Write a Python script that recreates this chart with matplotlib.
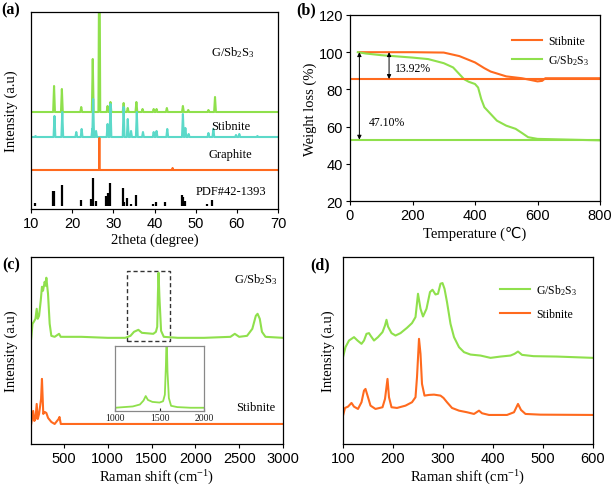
import numpy as np
import matplotlib
matplotlib.use("Agg")
import matplotlib.pyplot as plt

plt.rcParams['font.family'] = ['Liberation Sans', 'DejaVu Sans']
plt.rcParams['mathtext.fontset'] = 'custom'
plt.rcParams['mathtext.rm'] = 'Liberation Serif'
plt.rcParams['mathtext.it'] = 'Liberation Serif:italic'
SERIF = ['Liberation Serif', 'DejaVu Sans']

GREEN = '#8fe04c'
CYAN = '#5cd9c9'
ORANGE = '#ff6a1e'

# ---------------- (a) XRD ----------------
g_xrd_pos = [15.6, 17.5, 22.2, 25.0, 26.6, 28.6, 29.3, 32.5, 33.5, 35.6, 37.1, 39.8, 40.5, 43.0, 46.9, 48.2, 53.1, 54.7]
g_xrd_h = [26, 23, 5, 53, 200, 6, 10, 9, 4, 10, 3, 3, 3, 4, 6, 2, 2, 15]
s_xrd_pos = [11.1, 15.7, 17.6, 21.0, 22.3, 24.9, 25.1, 25.8, 28.6, 29.3, 32.5, 33.5, 34.3, 35.7, 37.2, 39.8, 40.5, 43.1, 46.9, 47.5, 48.3, 53.1, 54.3, 59.8, 60.6, 65.0]
s_xrd_h = [1, 21, 25, 5, 8, 8, 38, 6, 13, 33, 30, 18, 6, 25, 5, 5, 6, 8, 23, 9, 3, 4, 8, 2, 3, 1]
gr_xrd_pos = [26.6, 44.4]
gr_xrd_h = [32, 2]
pdf_pos = [11.0, 15.4, 15.6, 17.5, 22.2, 24.6, 25.0, 25.8, 28.3, 28.6, 29.2, 32.4, 32.7, 33.4, 34.4, 35.6, 39.7, 40.3, 42.6, 46.7, 47.0, 47.5, 52.8, 54.0]
pdf_h = [2.7, 15, 15, 20.7, 5.7, 6.7, 27.7, 5, 10, 13, 23, 17.7, 4, 8, 2.5, 11, 2.5, 4, 4, 10.7, 9, 5, 2.5, 6]
xrd_offsets = {'g': 97, 's': 72, 'gr': 39, 'pdf': 3}

# ---------------- (b) TGA ----------------
stib_T = [30, 100, 200, 300, 350, 400, 430, 450, 500, 550, 580, 600, 615, 625, 700, 800]
stib_W = [100, 100, 100, 99.8, 97.9, 94.5, 91.4, 89.6, 87.0, 86.0, 85.0, 84.3, 84.6, 86.0, 86.0, 86.0]
g_T = [25, 50, 100, 200, 250, 300, 330, 350, 365, 380, 400, 410, 420, 430, 450, 470, 500, 530, 550, 570, 600, 700, 800]
g_W = [100, 99.3, 98.4, 97.1, 96.3, 94.1, 91.8, 88.2, 85.5, 84.1, 82.9, 81.0, 74.8, 70.4, 66.8, 63.2, 60.5, 58.8, 56.6, 54.3, 53.4, 53.0, 52.6]
stib_final = 85.6
g_final = 53.0
loss_labels = ['13.92%', '47.10%']

# ---------------- (c) Raman wide ----------------
c_g_x = [127, 142, 157, 176, 190, 202, 217, 236, 250, 262, 281, 292, 300, 319, 338, 357, 395, 445, 464, 700, 1000, 1200, 1260, 1300, 1350, 1390, 1520, 1550, 1565, 1573, 1580, 1590, 1609, 1640, 1800, 2100, 2400, 2450, 2500, 2590, 2650, 2690, 2710, 2735, 2760, 2800, 3000]
c_g_y = [105, 120, 122, 125, 135, 125, 128, 143, 157, 153, 162, 158, 166, 150, 120, 108, 107, 110, 107, 107, 106, 106, 108, 112, 114, 111, 110, 112, 117, 150, 171, 147, 113, 107, 106, 106, 107, 110, 107, 108, 115, 128, 130, 125, 112, 107, 106]
c_s_x = [127, 150, 163, 176, 190, 202, 217, 240, 250, 265, 281, 300, 320, 357, 395, 440, 450, 465, 600, 1000, 1500, 2000, 2500, 3000]
c_s_y = [20, 33, 23, 25, 40, 25, 30, 45, 65, 30, 32, 31, 26, 22, 20, 25, 27, 20, 20, 20, 20, 20, 20, 20]
ins_x = [1000, 1100, 1200, 1280, 1320, 1345, 1370, 1420, 1500, 1540, 1560, 1572, 1580, 1590, 1605, 1630, 1700, 1850, 2000]
ins_y = [0.05, 0.06, 0.07, 0.10, 0.16, 0.23, 0.17, 0.14, 0.13, 0.15, 0.25, 0.7, 1.2, 0.6, 0.2, 0.08, 0.06, 0.05, 0.05]
c_labels = ['G/Sb$_\\mathregular{2}$S$_\\mathregular{3}$', 'Stibnite']

# ---------------- (d) Raman low ----------------
d_g_x = [100, 105, 112, 122, 129, 137, 142, 147, 152, 155, 162, 170, 179, 184, 187, 190, 197, 205, 215, 228, 238, 245, 250, 255, 260, 267, 274, 279, 285, 290, 295, 299, 303, 308, 315, 322, 332, 342, 355, 375, 395, 415, 435, 443, 450, 458, 481, 528, 600]
d_g_y = [86.7, 96.7, 103.3, 106.7, 103.3, 100, 103.3, 110, 110.7, 108.3, 103.3, 106.7, 111.7, 118.3, 124, 117.3, 110.7, 108.3, 110.7, 116, 120.7, 126.7, 150, 135, 127.3, 135, 151.7, 154, 149.3, 150, 160, 160.7, 155, 141.7, 120, 106.7, 96.7, 91.7, 89.3, 88.3, 86, 87.3, 88.3, 90, 92.3, 89, 87.7, 87.3, 86]
d_s_x = [100, 104, 110, 117, 122, 130, 137, 142, 145, 150, 155, 165, 179, 184, 189, 192, 197, 208, 225, 238, 245, 248, 252, 255, 258, 263, 272, 282, 295, 301, 308, 318, 332, 348, 362, 372, 378, 392, 428, 442, 450, 456, 465, 495, 600]
d_s_y = [28.3, 36, 37.3, 41, 37.3, 35, 41.7, 53.3, 55, 46.7, 38.3, 35, 36.7, 45, 65, 46.7, 36.7, 36, 38.3, 41.7, 46.7, 66.7, 105, 90, 60, 48.3, 49, 49.3, 48.3, 46, 41.7, 36, 33.3, 31.7, 30, 33.3, 30.7, 29, 29, 31.7, 40, 34, 30, 29.3, 29]
d_labels = ['G/Sb$_\\mathregular{2}$S$_\\mathregular{3}$', 'Stibnite']


def stick_curve(pos, h, base, xmin=10, xmax=70, hw=0.22):
    xs = [xmin]
    ys = [base]
    for p, v in sorted(zip(pos, h)):
        xs += [p - hw, p, p + hw]
        ys += [base, base + v, base]
    xs.append(xmax)
    ys.append(base)
    return xs, ys


fig = plt.figure(figsize=(6.14, 4.89), dpi=100)

def style_ax(ax, yticks=False):
    ax.tick_params(direction='out', length=3, width=0.8, labelsize=10.5, pad=2)
    for s in ax.spines.values():
        s.set_linewidth(0.9)
    if not yticks:
        ax.set_yticks([])

LW = 1.5

# ---- (a)
axa = fig.add_axes([31/614, 1-210/489, (278-31)/614, (210-13)/489])
x, y = stick_curve(g_xrd_pos, g_xrd_h, xrd_offsets['g'])
axa.plot(x, y, color=GREEN, lw=LW)
x, y = stick_curve(s_xrd_pos, s_xrd_h, xrd_offsets['s'])
axa.plot(x, y, color=CYAN, lw=LW)
x, y = stick_curve(gr_xrd_pos, gr_xrd_h, xrd_offsets['gr'], hw=0.05)
axa.plot(x, y, color=ORANGE, lw=LW)
axa.vlines(pdf_pos, xrd_offsets['pdf'], np.array(pdf_h) + xrd_offsets['pdf'], color='black', lw=1.6)
axa.set_xlim(10, 70)
axa.set_ylim(0, 197)
axa.set_xticks([10, 20, 30, 40, 50, 60, 70])
style_ax(axa)
axa.text(59, 157, 'G/Sb$_\\mathregular{2}$S$_\\mathregular{3}$', ha='center', va='center', fontsize=9, family=SERIF)
axa.text(58.5, 83, 'Stibnite', ha='center', va='center', fontsize=9, family=SERIF)
axa.text(58.5, 55, 'Graphite', ha='center', va='center', fontsize=9, family=SERIF)
axa.text(58.5, 18, 'PDF#42-1393', ha='center', va='center', fontsize=9, family=SERIF)
axa.set_xlabel('2theta (degree)', fontsize=10.5, family=SERIF, labelpad=2)
axa.set_ylabel('Intensity (a.u)', fontsize=10.5, family=SERIF, labelpad=9)

# ---- (b)
axb = fig.add_axes([350/614, 1-202/489, (600-350)/614, (202-16)/489])
axb.plot(stib_T, stib_W, color=ORANGE, lw=LW, label='Stibnite')
axb.plot(g_T, g_W, color=GREEN, lw=LW, label='G/Sb$_\\mathregular{2}$S$_\\mathregular{3}$')
axb.axhline(stib_final, color=ORANGE, lw=LW)
axb.axhline(g_final, color=GREEN, lw=LW)
axb.annotate('', xy=(30, g_final), xytext=(30, 100),
             arrowprops=dict(arrowstyle='<|-|>', color='black', lw=0.7, mutation_scale=6, shrinkA=0, shrinkB=0))
axb.annotate('', xy=(125, stib_final), xytext=(125, 100),
             arrowprops=dict(arrowstyle='<|-|>', color='black', lw=0.7, mutation_scale=6, shrinkA=0, shrinkB=0))
axb.text(145, 91.3, loss_labels[0], ha='left', va='center', fontsize=8.5, family=SERIF)
axb.text(60, 62.7, loss_labels[1], ha='left', va='center', fontsize=8.5, family=SERIF)
axb.set_xlim(0, 800)
axb.set_ylim(20, 120)
axb.set_xticks([0, 200, 400, 600, 800])
axb.set_yticks([20, 40, 60, 80, 100, 120])
style_ax(axb, yticks=True)
axb.legend(loc='upper right', bbox_to_anchor=(1.0, 0.95), frameon=False,
           prop={'family': SERIF, 'size': 8.5}, handlelength=2.6, handletextpad=0.5, labelspacing=0.45)
axb.set_xlabel('Temperature (℃)', fontsize=10.5, family=SERIF, labelpad=3)
axb.set_ylabel('Weight loss (%)', fontsize=10.5, family=SERIF, labelpad=1)

# ---- (c)
axc = fig.add_axes([31/614, 1-445/489, (283-31)/614, (445-258)/489])
axc.plot(c_g_x, c_g_y, color=GREEN, lw=LW)
axc.plot(c_s_x, c_s_y, color=ORANGE, lw=LW)
axc.add_patch(plt.Rectangle((1219, 103.3), 1706-1219, 172.3-103.3, fill=False, ls=(0, (3, 2)), lw=1.0, ec='#333333'))
axc.set_xlim(125, 3000)
axc.set_ylim(0, 186.7)
axc.set_xticks([500, 1000, 1500, 2000, 2500, 3000])
style_ax(axc)
axc.text(2684, 165, c_labels[0], ha='center', va='center', fontsize=9, family=SERIF)
axc.text(2684, 37, c_labels[1], ha='center', va='center', fontsize=9, family=SERIF)
axc.set_xlabel('Raman shift (cm$^{\\mathregular{-1}}$)', fontsize=10.5, family=SERIF, labelpad=2)
axc.set_ylabel('Intensity (a.u)', fontsize=10.5, family=SERIF, labelpad=9)

axi = fig.add_axes([115/614, 1-412/489, (204-115)/614, (412-347)/489])
axi.plot(ins_x, ins_y, color=GREEN, lw=1.3)
axi.set_xlim(1000, 2000)
axi.set_ylim(0, 1)
axi.set_xticks([1000, 1500, 2000])
axi.set_yticks([])
axi.tick_params(direction='in', length=2, labelsize=7, pad=1.5, colors='#222222')
for lbl in axi.get_xticklabels():
    lbl.set_family(SERIF)
for s in axi.spines.values():
    s.set_color('#888888')
    s.set_linewidth(0.9)

# ---- (d)
axd = fig.add_axes([343/614, 1-445/489, (593-343)/614, (445-258)/489])
axd.plot(d_g_x, d_g_y, color=GREEN, lw=LW, label=d_labels[0])
axd.plot(d_s_x, d_s_y, color=ORANGE, lw=LW, label=d_labels[1])
axd.set_xlim(100, 600)
axd.set_ylim(0, 186.7)
axd.set_xticks([100, 200, 300, 400, 500, 600])
style_ax(axd)
axd.legend(loc='upper right', bbox_to_anchor=(0.98, 0.92), frameon=False,
           prop={'family': SERIF, 'size': 8.5}, handlelength=2.6, handletextpad=0.5, labelspacing=0.9)
axd.set_xlabel('Raman shift (cm$^{\\mathregular{-1}}$)', fontsize=10.5, family=SERIF, labelpad=2)
axd.set_ylabel('Intensity (a.u)', fontsize=10.5, family=SERIF, labelpad=6)

# panel labels
for lbl, (px, py) in zip(['(a)', '(b)', '(c)', '(d)'], [(1, 2), (296, 2), (2, 257), (310, 257)]):
    fig.text(px/614, 1-py/489, lbl, ha='left', va='top', fontsize=11.5, fontweight='bold', family=SERIF)

fig.savefig('out.png', dpi=100)
